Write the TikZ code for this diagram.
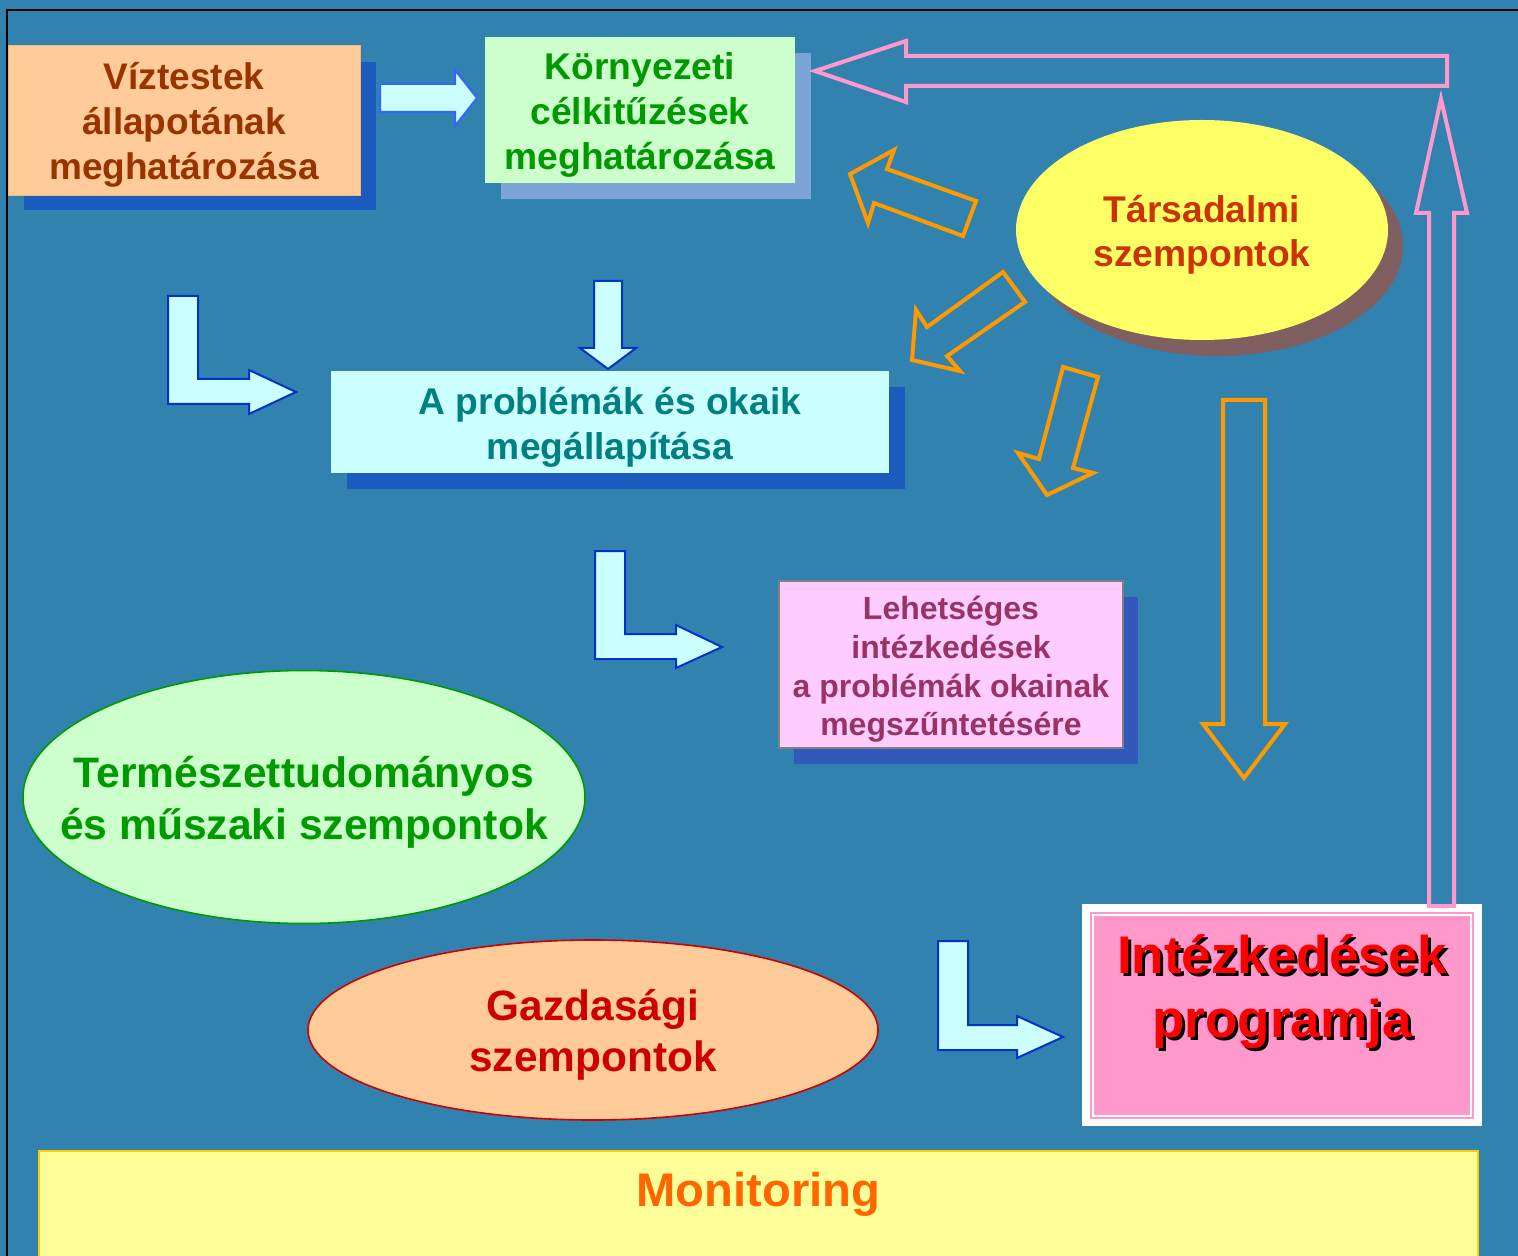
\documentclass[tikz,border=0pt]{standalone}
\usepackage{fontspec}
\setmainfont{Liberation Sans}
\usetikzlibrary{positioning, shapes.geometric}

\definecolor{hatter}{HTML}{3282B0}
\definecolor{arnyek}{HTML}{1B5BBE}
\definecolor{arnyekvil}{HTML}{7BA5D6}
\definecolor{arnyeklila}{HTML}{3158BA}
\definecolor{barack}{HTML}{FFCC99}
\definecolor{barackkeret}{HTML}{F5B870}
\definecolor{barna}{HTML}{993300}
\definecolor{menta}{HTML}{CCFFCC}
\definecolor{zold}{HTML}{009900}
\definecolor{egszin}{HTML}{CCFFFF}
\definecolor{kek}{HTML}{0033CC}
\definecolor{vilkek}{HTML}{3366FF}
\definecolor{rozsa}{HTML}{FF99CC}
\definecolor{narancs}{HTML}{FF9900}
\definecolor{citrom}{HTML}{FFFF66}
\definecolor{barnaarny}{HTML}{7F5F5F}
\definecolor{teglapiros}{HTML}{CC3300}
\definecolor{kekeszold}{HTML}{008080}
\definecolor{halvanylila}{HTML}{FFCCFF}
\definecolor{bordo}{HTML}{993366}
\definecolor{piros}{HTML}{CC0000}
\definecolor{vilsarga}{HTML}{FFFF99}
\definecolor{arany}{HTML}{FFCC00}
\definecolor{mnarancs}{HTML}{FF6600}

% piros felirat fekete arnyekkal
\newcommand\arnyekolt[1]{\makebox[0pt][l]{\hspace{1.5pt}\raisebox{-1.5pt}{\color{black}#1}}#1}

\begin{document}
\begin{tikzpicture}[x=0.5pt, y=-0.5pt,
  every node/.style={align=center, inner sep=0pt},
  szoveg/.style 2 args={font=\bfseries\fontsize{#1}{#2}\selectfont, yshift=-2.5pt},
  blokknyil/.style={fill=egszin, draw=kek, line width=1pt, line join=miter},
  keretnyil/.style={draw=#1, line width=2pt, line join=miter}]
\useasboundingbox (0,0) rectangle (1518,1256);
\fill[hatter] (0,0) rectangle (1518,1256);
\draw[black, line width=1pt] (7,1256) -- (7,10) -- (1518,10);

% felso sor
\node (allapotarny) [rectangle, fill=arnyek, minimum width=176pt, minimum height=74pt] at (200,136) {};
\node (allapot) [rectangle, fill=barack, draw=barackkeret,
minimum width=176pt, minimum height=75pt] at (184,120) {};
\node (allapotszoveg) [text=barna, szoveg={18.5}{22.5}] at (allapot.center)
{Víztestek\\állapotának\\meghatározása};
\node (celokarny) [rectangle, fill=arnyekvil, minimum width=155pt, minimum height=73pt] at (656,126) {};
\node (celok) [rectangle, fill=menta, minimum width=155pt, minimum height=73pt] at (640,110) {};
\node (celokszoveg) [text=zold, szoveg={18.6}{22.5}] at (celok.center)
{Környezeti\\célkitűzések\\meghatározása};

% tarsadalmi
\node (tarsadarny) [ellipse, fill=barnaarny, minimum width=186pt, minimum height=110pt] at (1217,246) {};
\node (tarsad) [ellipse, fill=citrom, minimum width=186pt, minimum height=110pt] at (1202,230) {};
\node (tarsadszoveg) [text=teglapiros, szoveg={18.6}{22}] at (tarsad.center)
{Társadalmi\\szempontok};

% problemak
\node (problemaarny) [rectangle, fill=arnyek, minimum width=279pt, minimum height=51pt] at (626,438) {};
\node (problema) [rectangle, fill=egszin, minimum width=279pt, minimum height=51pt] at (610,422) {};
\node (problemaszoveg) [text=kekeszold, szoveg={18.6}{22.5}] at (problema.center)
{A problémák és okaik\\megállapítása};

% lehetseges intezkedesek
\node (lehetsegesarny) [rectangle, fill=arnyeklila, minimum width=172pt, minimum height=83.5pt] at (966,680) {};
\node (lehetseges) [rectangle, fill=halvanylila, draw=gray, line width=0.7pt,
minimum width=172pt, minimum height=83.5pt] at (951,664.5) {};
\node (lehetsegesszoveg) [text=bordo, szoveg={16}{19.3}] at (lehetseges.center)
{Lehetséges\\intézkedések\\a problémák okainak\\megszűntetésére};

% szempontok
\node (termesz) [ellipse, fill=menta, draw=zold, line width=0.8pt,
minimum width=281pt, minimum height=126.5pt] at (304,797) {};
\node (termeszszoveg) [text=zold, szoveg={21.3}{26}] at (termesz.center)
{Természettudományos\\és műszaki szempontok};
\node (gazd) [ellipse, fill=barack, draw=piros, line width=0.8pt,
minimum width=285pt, minimum height=90pt] at (593,1030) {};
\node (gazdszoveg) [text=piros, szoveg={21.2}{25.5}] at (gazd.center)
{Gazdasági\\szempontok};

% intezkedesek programja
\node (program) [rectangle, fill=white, minimum width=200pt, minimum height=111pt] at (1282,1015) {};
\node (programbelso) [rectangle, fill=rozsa, draw=rozsa, double=white, double distance=1pt,
line width=1pt, minimum width=189pt, minimum height=100.5pt] at (program.center) {};
\node (programszoveg) [text=red, szoveg={26.5}{32}] at (1282,988)
{\arnyekolt{Intézkedések}\\\arnyekolt{programja}};

% monitoring
\node (monitor) [rectangle, fill=vilsarga, draw=arany, line width=1pt, anchor=north west,
minimum width=719.5pt, minimum height=60pt] at (38,1150) {};
\node (monitorszoveg) [below=8.5pt of monitor.north, text=mnarancs, szoveg={23.6}{28}] {Monitoring};

% kek nyilak
\draw[blokknyil, draw=vilkek] (380,84) -- (455,84) -- (455,70) -- (477,98) -- (455,126) -- (455,112) -- (380,112) -- cycle;
\draw[blokknyil] (594,281) -- (622,281) -- (622,348) -- (636,348) -- (608,369) -- (580,348) -- (594,348) -- cycle;
\draw[blokknyil] (168,296) -- (198,296) -- (198,379) -- (249,379) -- (249,370) -- (296,392) -- (249,414) -- (249,404) -- (168,404) -- cycle;
\draw[blokknyil] (595,551) -- (625,551) -- (625,634) -- (676,634) -- (676,625) -- (722,647) -- (676,668) -- (676,659) -- (595,659) -- cycle;
\draw[blokknyil] (938,941) -- (968,941) -- (968,1025) -- (1017,1025) -- (1017,1016) -- (1063,1037) -- (1017,1058) -- (1017,1050) -- (938,1050) -- cycle;

% narancs nyilak
\draw[keretnyil=narancs] (850,174) -- (894,150) -- (887,169) -- (976,201) -- (963,236) -- (874,203) -- (868,223) -- cycle;
\draw[keretnyil=narancs] (912,360) -- (916,310) -- (927,327) -- (1003,272) -- (1025,302) -- (947,356) -- (960,371) -- cycle;
\draw[keretnyil=narancs] (1063,367) -- (1098,377) -- (1073,468) -- (1093,473) -- (1047,495) -- (1018,453) -- (1039,459) -- cycle;
\draw[keretnyil=narancs] (1223,400) -- (1265,400) -- (1265,724) -- (1285,724) -- (1244,778) -- (1203,724) -- (1223,724) -- cycle;

% rozsaszin visszacsatolas
\draw[keretnyil=rozsa] (1447,56) -- (906,56) -- (906,41) -- (815,71) -- (906,102) -- (906,86) -- (1447,86) -- cycle;
\draw[keretnyil=rozsa] (1429,906) -- (1429,213) -- (1416,213) -- (1441,99) -- (1467,213) -- (1454,213) -- (1454,906) -- cycle;
\end{tikzpicture}
\end{document}
